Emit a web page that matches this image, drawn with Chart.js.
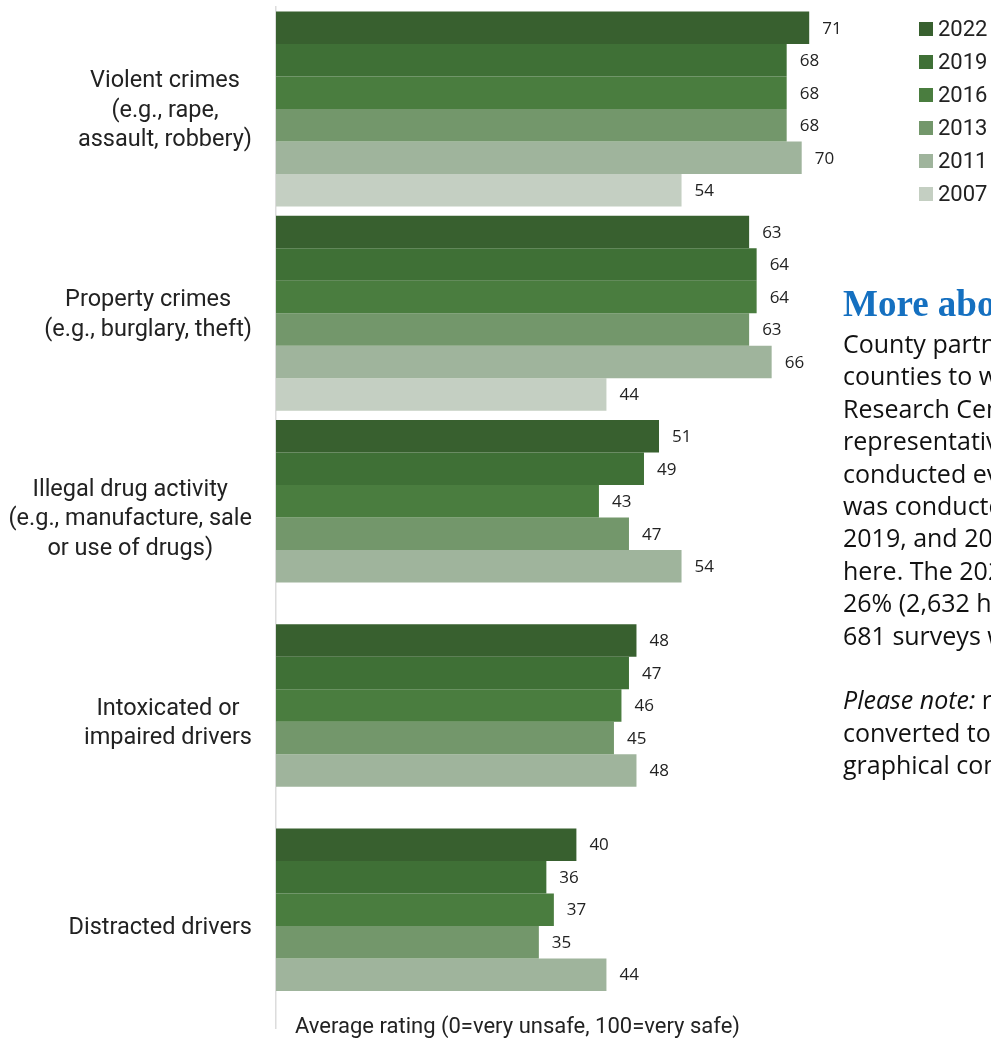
<!DOCTYPE html>
<html>
<head>
<meta charset="utf-8">
<script src="https://cdn.jsdelivr.net/npm/chart.js@4/dist/chart.umd.min.js"></script>
<style>
  html, body { margin: 0; padding: 0; background: #fff; overflow: hidden; }
  #page { position: relative; width: 991px; height: 1038px; overflow: hidden; }
  #chart-box { position: absolute; left: 0; top: 0; width: 1027px; height: 1038px; }
  .legend { position: absolute; left: 919px; top: 12px; font: 22px Roboto, sans-serif; color: #222; }
  .legend .item { height: 33px; display: flex; align-items: center; white-space: nowrap; }
  .legend .sw { width: 14px; height: 14px; margin-right: 5px; flex: none; }
  .x-title { position: absolute; left: 295px; top: 1013px; font: 22px Roboto, sans-serif; color: #222; white-space: nowrap; }
  .about { position: absolute; left: 843px; top: 281px; white-space: nowrap; }
  .about h2 { margin: 0; font: bold 37px "Liberation Serif", serif; color: #1570c0; line-height: 46px; }
  .about p { margin: 0; font: 25px "Open Sans", sans-serif; color: #111; line-height: 32.4px; }
  .about p + p { margin-top: 32.4px; }
</style>
</head>
<body>
<div id="page">
  <div id="chart-box"><canvas id="chart"></canvas></div>
  <div class="legend" id="legend"></div>
  <div class="x-title">Average rating (0=very unsafe, 100=very safe)</div>
  <div class="about">
    <h2>More about the survey</h2>
    <p>County partners with<br>counties to work with<br>Research Center<br>representative<br>conducted every<br>was conducted in<br>2019, and 2022<br>here. The 2022<br>26% (2,632 households<br>681 surveys were</p>
    <p><i>Please note:</i> ratings<br>converted to a<br>graphical comparison</p>
  </div>
</div>
<script>
// Perceived safety ratings by type of crime, grouped by survey year.
const categories = [
  ["Violent crimes", "(e.g., rape,", "assault, robbery)"],
  ["Property crimes", "(e.g., burglary, theft)"],
  ["Illegal drug activity", "(e.g., manufacture, sale", "or use of drugs)"],
  ["Intoxicated or", "impaired drivers"],
  ["Distracted drivers"],
];
const years = ["2022", "2019", "2016", "2013", "2011", "2007"];
const colors = ["#38602f", "#3f7036", "#4a7d3f", "#73976b", "#9fb49c", "#c4cfc2"];

const v2022 = [71, 63, 51, 48, 40];
const v2019 = [68, 64, 49, 47, 36];
const v2016 = [68, 64, 43, 46, 37];
const v2013 = [68, 63, 47, 45, 35];
const v2011 = [70, 66, 54, 48, 44];
const v2007 = [54, 44, null, null, null]; // not asked in 2007

const series = [v2022, v2019, v2016, v2013, v2011, v2007];

// html legend, kept as real text
document.getElementById("legend").innerHTML = years
  .map((y, i) => `<div class="item"><span class="sw" style="background:${colors[i]}"></span>${y}</div>`)
  .join("");

const LABEL_FONT = "23.5px Roboto, sans-serif";
const LINE_H = 29.5;
const LABEL_RIGHT = 252;

// category labels: block right-aligned, lines centred inside the block
const catLabels = {
  id: "catLabels",
  afterDraw(chart) {
    const { ctx } = chart;
    const y = chart.scales.y;
    ctx.save();
    ctx.font = LABEL_FONT;
    ctx.fillStyle = "#222";
    ctx.textAlign = "center";
    ctx.textBaseline = "middle";
    categories.forEach((lines, i) => {
      const cy = y.getPixelForValue(i) + 2;
      const widest = Math.max(...lines.map((l) => ctx.measureText(l).width));
      const cx = LABEL_RIGHT - widest / 2;
      lines.forEach((l, j) => ctx.fillText(l, cx, cy + (j - (lines.length - 1) / 2) * LINE_H));
    });
    ctx.restore();
  },
};

// value labels just past the end of each bar
const valueLabels = {
  id: "valueLabels",
  afterDatasetsDraw(chart) {
    const { ctx } = chart;
    ctx.save();
    ctx.font = "17px 'Open Sans', sans-serif";
    ctx.fillStyle = "#222";
    ctx.textAlign = "left";
    ctx.textBaseline = "middle";
    chart.data.datasets.forEach((ds, di) => {
      chart.getDatasetMeta(di).data.forEach((bar, i) => {
        const v = ds.data[i];
        if (v == null) return;
        ctx.fillText(String(v), bar.x + 13, bar.y + 1);
      });
    });
    ctx.restore();
  },
};

new Chart(document.getElementById("chart"), {
  type: "bar",
  data: {
    labels: categories.map((c) => c.join(" ")),
    datasets: series.map((data, i) => ({
      label: years[i],
      data,
      backgroundColor: colors[i],
      borderWidth: 0,
      categoryPercentage: 0.955,
      barPercentage: 1,
    })),
  },
  options: {
    indexAxis: "y",
    responsive: true,
    maintainAspectRatio: false,
    animation: false,
    layout: { padding: { top: 7, bottom: 10, left: 0, right: 0 } },
    plugins: { legend: { display: false }, tooltip: { enabled: false } },
    scales: {
      x: { min: 0, max: 100, display: false },
      y: {
        ticks: { display: false },
        grid: { display: false },
        border: { display: true, color: "#dcdcdc", width: 1.5 },
        afterFit: (s) => { s.width = 276; },
      },
    },
  },
  plugins: [catLabels, valueLabels],
});
</script>
</body>
</html>
